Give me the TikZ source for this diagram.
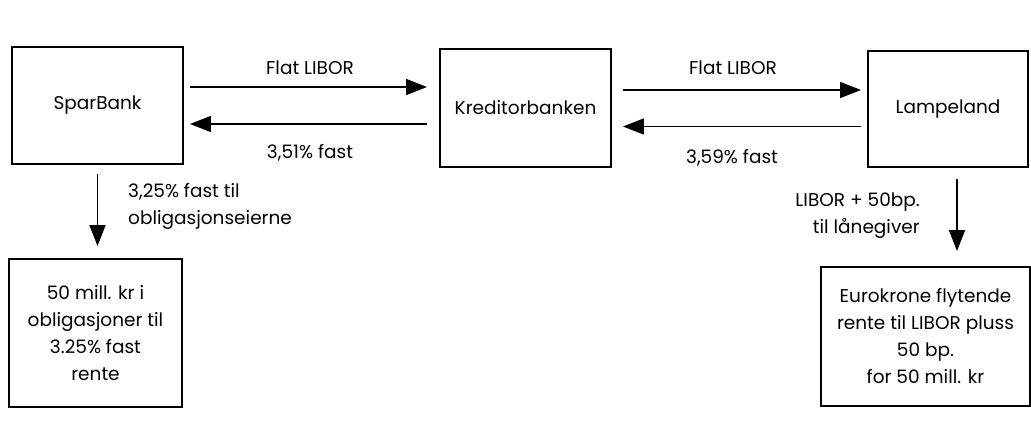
\documentclass[tikz,border=0pt]{standalone}
\usepackage{fontspec}
\setmainfont{Poppins}
\usetikzlibrary{arrows.meta}
\begin{document}
\begin{tikzpicture}[x=1pt,y=-1pt,
  box/.style={draw, line width=1.9pt, rectangle, inner sep=0pt, align=center,
    font=\fontsize{18.5}{27}\selectfont},
  lbl/.style={inner sep=0pt, font=\fontsize{18.5}{27}\selectfont},
  arr/.style={line width=1.5pt, -{Triangle[length=21pt,width=16pt]}}
]
\useasboundingbox (0,0) rectangle (1031,430);
% boxes
\node[box, minimum width=171pt, minimum height=117pt] (spar) at (97.5,105.5) {SparBank};
\node[box, minimum width=171pt, minimum height=118pt] (kred) at (525.5,108) {Kreditorbanken};
\node[box, minimum width=160pt, minimum height=116pt] (lamp) at (948,109) {Lampeland};
\node[box, minimum width=173pt, minimum height=148pt] (oblig) at (95.5,333)
  {50 mill. kr i\\obligasjoner til\\3.25\% fast\\rente};
\node[box, minimum width=209pt, minimum height=139pt] (euro) at (925.5,336.5)
  {Eurokrone flytende\\rente til LIBOR pluss\\50 bp.\\for 50 mill. kr};
% horizontal arrows
\draw[arr, shorten <=6pt, shorten >=12pt] ([yshift=18.5pt]spar.east) -- ([yshift=18.5pt]spar.east -| kred.west);
\draw[arr, shorten <=12pt, shorten >=6pt] ([yshift=-18.5pt]spar.east -| kred.west) -- ([yshift=-18.5pt]spar.east);
\draw[arr, shorten <=11pt, shorten >=6pt] ([yshift=18pt]kred.east) -- ([yshift=18pt]kred.east -| lamp.west);
\draw[arr, shorten <=6pt, shorten >=11pt] ([yshift=-18.5pt]kred.east -| lamp.west) -- ([yshift=-18.5pt]kred.east);
% vertical arrows
\draw[arr, shorten <=9pt, shorten >=12pt] (spar.south) -- (spar.south |- oblig.north);
\draw[arr, shorten <=11pt, shorten >=15pt] ([xshift=9pt]lamp.south) -- ([xshift=9pt]lamp.south |- euro.north);
% labels
\node[lbl] (l1) at (310,68) {Flat LIBOR};
\node[lbl] (l2) at (310,153) {3,51\% fast};
\node[lbl] (l3) at (733,68) {Flat LIBOR};
\node[lbl] (l4) at (732,158) {3,59\% fast};
\node[lbl, anchor=west, align=left] (l5) at (128,206.5) {3,25\% fast til\\obligasjonseierne};
\node[lbl, anchor=east, align=right] (l6) at (920,215.5) {LIBOR + 50bp.\\til lånegiver};
\end{tikzpicture}
\end{document}
